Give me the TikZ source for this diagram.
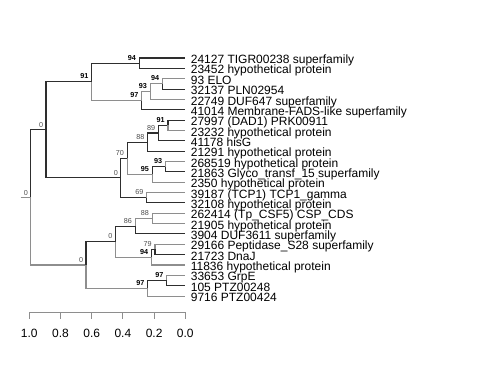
\documentclass[tikz,border=0pt]{standalone}
\usepackage{fontspec}
\setmainfont{Liberation Sans}
\usepackage{xcolor}
\usepackage{tikz}
\usetikzlibrary{positioning}
\definecolor{edgedk}{HTML}{2E2E2E}
\definecolor{edgelt}{HTML}{8E8E8E}

\begin{document}
\begin{tikzpicture}[
  x=0.02cm, y=-0.02cm,
  dk/.style={draw=edgedk, line width=0.6pt},
  lt/.style={draw=edgelt, line width=0.6pt},
  tiplab/.style={anchor=west, inner xsep=0.11cm, inner ysep=0pt, text height=6.6pt, text depth=0.2pt, font=\fontsize{6.83}{7}\selectfont},
  bs/.style={inner sep=0pt, font=\fontsize{4.1}{4.5}\selectfont\bfseries},
  bsn/.style={inner sep=0pt, text=edgedk!85, font=\fontsize{4.1}{4.5}\selectfont},
  axlab/.style={inner sep=0pt, font=\fontsize{6.83}{7}\selectfont}
]
\useasboundingbox (0,0) rectangle (480,384);
% internal nodes
\coordinate (stub) at (20.7,197.5);
\coordinate (root) at (30.7,197.5);
\coordinate (nA) at (46,129.95);
\coordinate (n91) at (91.7,81.9);
\coordinate (n94) at (139.3,63.2);
\coordinate (n97) at (141.7,100.7);
\coordinate (n93) at (150.3,91.6);
\coordinate (n94a) at (162.5,83.9);
\coordinate (nC0) at (120.7,177.95);
\coordinate (n70) at (127.2,158.2);
\coordinate (n88) at (147.8,142.1);
\coordinate (n89) at (158.5,133.0);
\coordinate (n91b) at (168,125.3);
\coordinate (n95) at (152.3,174.4);
\coordinate (n93b) at (165.4,166.7);
\coordinate (n69) at (146.7,197.7);
\coordinate (nB) at (86,265.0);
\coordinate (nC) at (115.3,241.7);
\coordinate (n86) at (135.3,226.2);
\coordinate (n88b) at (152.2,218.4);
\coordinate (n94c) at (151.4,257.2);
\coordinate (n79) at (155,249.5);
\coordinate (n97a) at (147.7,288.3);
\coordinate (n97b) at (166.8,280.5);
% tips
\node[tiplab] (t0) at (185,58.0) {24127 TIGR00238 superfamily};
\node[tiplab] (t1) at (185,68.35) {23452 hypothetical protein};
\node[tiplab] (t2) at (185,78.7) {93 ELO};
\node[tiplab] (t3) at (185,89.05) {32137 PLN02954};
\node[tiplab] (t4) at (185,99.4) {22749 DUF647 superfamily};
\node[tiplab] (t5) at (185,109.75) {41014 Membrane-FADS-like superfamily};
\node[tiplab] (t6) at (185,120.1) {27997 (DAD1) PRK00911};
\node[tiplab] (t7) at (185,130.45) {23232 hypothetical protein};
\node[tiplab] (t8) at (185,140.8) {41178 hisG};
\node[tiplab] (t9) at (185,151.15) {21291 hypothetical protein};
\node[tiplab] (t10) at (185,161.5) {268519 hypothetical protein};
\node[tiplab] (t11) at (185,171.85) {21863 Glyco\_transf\_15 superfamily};
\node[tiplab] (t12) at (185,182.2) {2350 hypothetical protein};
\node[tiplab] (t13) at (185,192.55) {39187 (TCP1) TCP1\_gamma};
\node[tiplab] (t14) at (185,202.9) {32108 hypothetical protein};
\node[tiplab] (t15) at (185,213.25) {262414 (Tp\_CSF5) CSP\_CDS};
\node[tiplab] (t16) at (185,223.6) {21905 hypothetical protein};
\node[tiplab] (t17) at (185,233.95) {3904 DUF3611 superfamily};
\node[tiplab] (t18) at (185,244.3) {29166 Peptidase\_S28 superfamily};
\node[tiplab] (t19) at (185,254.65) {21723 DnaJ};
\node[tiplab] (t20) at (185,265.0) {11836 hypothetical protein};
\node[tiplab] (t21) at (185,275.35) {33653 GrpE};
\node[tiplab] (t22) at (185,285.7) {105 PTZ00248};
\node[tiplab] (t23) at (185,296.05) {9716 PTZ00424};
% branches
\draw[lt] (stub) -- (root);
\draw[dk] (root) |- (nA);
\draw[lt] (root) |- (nB);
\draw[dk] (nA) |- (n91);
\draw[dk] (nA) |- (nC0);
\draw[dk] (n91) |- (n94);
\draw[lt] (n91) |- (n97);
\draw[dk] (n94) |- (t0.west);
\draw[dk] (n94) |- (t1.west);
\draw[lt] (n97) |- (n93);
\draw[dk] (n97) |- (t5.west);
\draw[lt] (n93) |- (n94a);
\draw[lt] (n93) |- (t4.west);
\draw[lt] (n94a) |- (t2.west);
\draw[dk] (n94a) |- (t3.west);
\draw[dk] (nC0) |- (n70);
\draw[dk] (nC0) |- (n69);
\draw[dk] (n70) |- (n88);
\draw[lt] (n70) |- (n95);
\draw[dk] (n88) |- (n89);
\draw[dk] (n88) |- (t9.west);
\draw[dk] (n89) |- (n91b);
\draw[dk] (n89) |- (t8.west);
\draw[dk] (n91b) |- (t6.west);
\draw[lt] (n91b) |- (t7.west);
\draw[dk] (n95) |- (n93b);
\draw[lt] (n95) |- (t12.west);
\draw[lt] (n93b) |- (t10.west);
\draw[dk] (n93b) |- (t11.west);
\draw[lt] (n69) |- (t13.west);
\draw[dk] (n69) |- (t14.west);
\draw[dk] (nB) |- (nC);
\draw[lt] (nB) |- (n97a);
\draw[dk] (nC) |- (n86);
\draw[lt] (nC) |- (n94c);
\draw[lt] (n86) |- (n88b);
\draw[dk] (n86) |- (t17.west);
\draw[lt] (n88b) |- (t15.west);
\draw[lt] (n88b) |- (t16.west);
\draw[dk] (n94c) |- (n79);
\draw[lt] (n94c) |- (t20.west);
\draw[lt] (n79) |- (t18.west);
\draw[dk] (n79) |- (t19.west);
\draw[dk] (n97a) |- (n97b);
\draw[lt] (n97a) |- (t23.west);
\draw[lt] (n97b) |- (t21.west);
\draw[dk] (n97b) |- (t22.west);
% support values
\node[bsn, above left=0.03cm and 0.05cm of root] (s0r) {0};
\node[bsn, above left=0.05cm and 0.05cm of nA] (s0a) {0};
\node[bs, above left=0.05cm and 0.06cm of n91] (s91) {91};
\node[bs, above left=0.05cm and 0.06cm of n94] (s94) {94};
\node[bs, above left=0.05cm and 0.06cm of n97] (s97) {97};
\node[bs, above left=0.05cm and 0.06cm of n93] (s93) {93};
\node[bs, above left=0.05cm and 0.06cm of n94a] (s94a) {94};
\node[bsn, above left=0.05cm and 0.05cm of nC0] (s0c0) {0};
\node[bsn, above left=0.05cm and 0.06cm of n70] (s70) {70};
\node[bsn, above left=0.05cm and 0.06cm of n88] (s88) {88};
\node[bsn, above left=0.05cm and 0.06cm of n89] (s89) {89};
\node[bs, above left=0.05cm and 0.06cm of n91b] (s91b) {91};
\node[bs, above left=0.05cm and 0.06cm of n95] (s95) {95};
\node[bs, above left=0.05cm and 0.06cm of n93b] (s93b) {93};
\node[bsn, above left=0.05cm and 0.06cm of n69] (s69) {69};
\node[bsn, above left=0.05cm and 0.05cm of nB] (s0b) {0};
\node[bsn, above left=0.05cm and 0.05cm of nC] (s0c) {0};
\node[bsn, above left=0.05cm and 0.06cm of n86] (s86) {86};
\node[bsn, above left=0.05cm and 0.06cm of n88b] (s88b) {88};
\node[bs, above left=0.05cm and 0.06cm of n94c] (s94c) {94};
\node[bsn, above left=0.05cm and 0.06cm of n79] (s79) {79};
\node[bs, above left=0.05cm and 0.06cm of n97a] (s97a) {97};
\node[bs, above left=0.05cm and 0.06cm of n97b] (s97b) {97};
% scale axis
\draw[lt] (29.3,318.7) -- (29.3,312.7) -- (185.3,312.7) -- (185.3,318.7);
\draw[lt] (60.5,312.7) -- (60.5,318.7);
\draw[lt] (91.7,312.7) -- (91.7,318.7);
\draw[lt] (122.9,312.7) -- (122.9,318.7);
\draw[lt] (154.1,312.7) -- (154.1,318.7);
\node[axlab] (ax10) at (29.3,333.7) {1.0};
\node[axlab] (ax08) at (60.5,333.7) {0.8};
\node[axlab] (ax06) at (91.7,333.7) {0.6};
\node[axlab] (ax04) at (122.9,333.7) {0.4};
\node[axlab] (ax02) at (154.1,333.7) {0.2};
\node[axlab] (ax00) at (185.3,333.7) {0.0};
\end{tikzpicture}
\end{document}
